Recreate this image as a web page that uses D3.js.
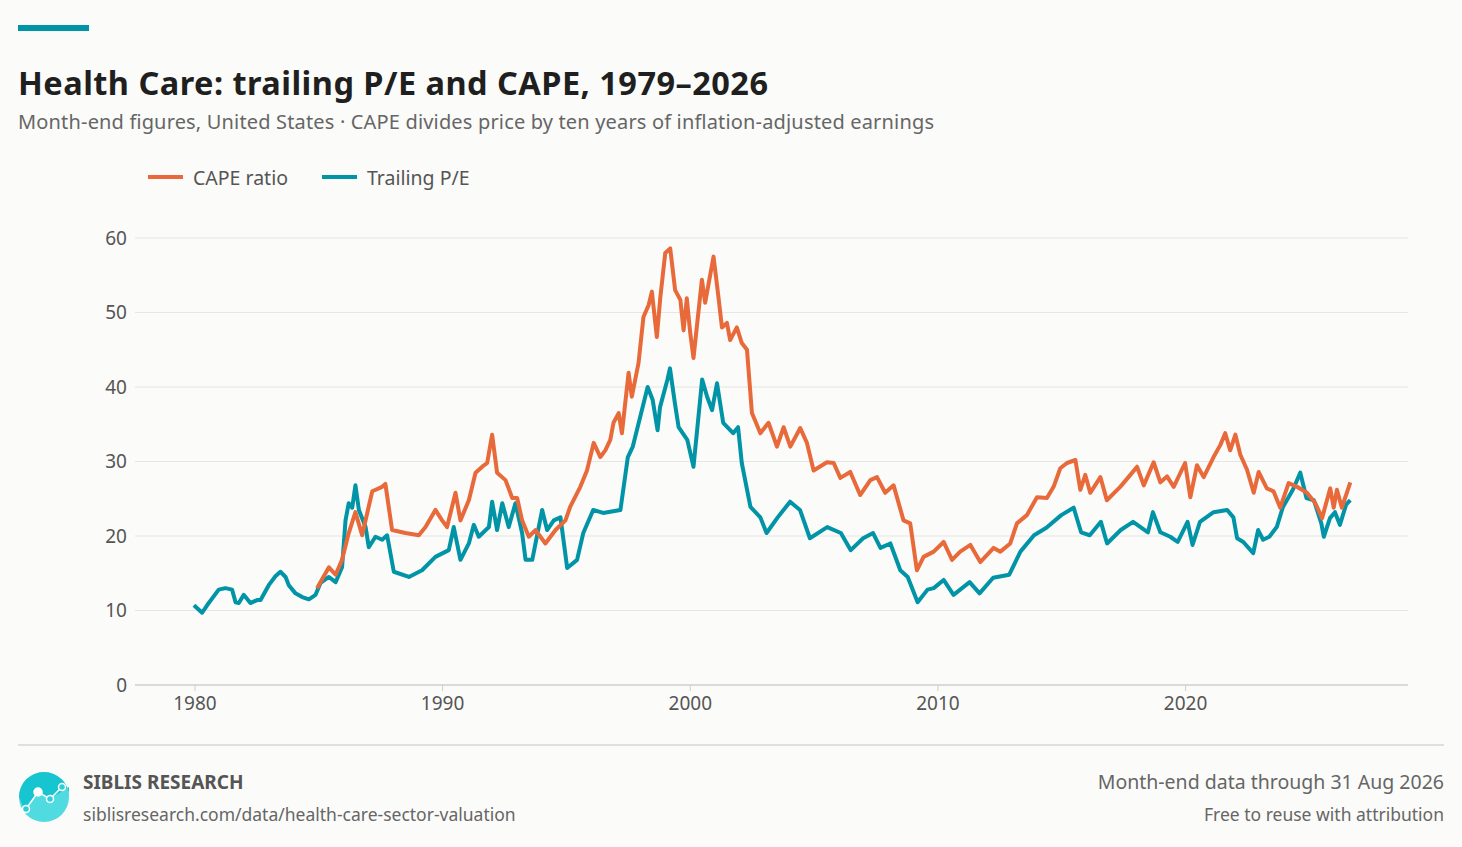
<!DOCTYPE html>
<html><head><meta charset="utf-8">
<script src="https://cdn.jsdelivr.net/npm/d3@7"></script>
<style>
body{margin:0;background:#fbfbf9;font-family:"Noto Sans",sans-serif;}
</style></head><body>
<script>
var peYears = [1979.98,1980.31,1980.51,1980.98,1981.25,1981.52,1981.66,1981.79,1981.99,1982.26,1982.53,1982.67,1983.0,1983.27,1983.47,1983.68,1983.81,1984.08,1984.35,1984.62,1984.89,1985.09,1985.43,1985.7,1985.96,1986.1,1986.23,1986.37,1986.5,1986.64,1986.91,1987.04,1987.31,1987.58,1987.78,1988.05,1988.66,1989.19,1989.73,1990.27,1990.47,1990.74,1991.08,1991.28,1991.48,1991.89,1992.02,1992.22,1992.43,1992.69,1992.96,1993.23,1993.37,1993.64,1994.04,1994.24,1994.51,1994.78,1995.05,1995.45,1995.7,1996.1,1996.5,1997.2,1997.5,1997.7,1998.0,1998.3,1998.5,1998.7,1998.8,1999.1,1999.2,1999.4,1999.55,1999.9,2000.15,2000.5,2000.7,2000.9,2001.1,2001.35,2001.75,2001.95,2002.1,2002.45,2002.85,2003.1,2003.55,2004.05,2004.45,2004.85,2005.55,2006.1,2006.5,2007.0,2007.4,2007.7,2008.1,2008.5,2008.8,2009.2,2009.6,2009.85,2010.25,2010.65,2011.3,2011.7,2012.25,2012.9,2013.35,2013.9,2014.4,2015.0,2015.5,2015.8,2016.15,2016.6,2016.85,2017.4,2017.9,2018.5,2018.7,2019.0,2019.4,2019.7,2020.1,2020.3,2020.6,2021.15,2021.7,2021.95,2022.1,2022.35,2022.75,2022.95,2023.15,2023.4,2023.7,2023.95,2024.35,2024.65,2024.9,2025.2,2025.5,2025.6,2025.85,2026.05,2026.25,2026.5,2026.67];
var peValues = [10.7,9.7,10.7,12.8,13.0,12.8,11.1,11.0,12.1,11.0,11.4,11.4,13.4,14.6,15.2,14.5,13.4,12.3,11.8,11.5,12.1,13.7,14.5,13.8,15.8,22.1,24.4,23.8,26.8,23.5,21.2,18.5,19.9,19.5,20.1,15.2,14.5,15.4,17.2,18.1,21.2,16.8,19.0,21.5,19.9,21.2,24.6,20.8,24.4,21.2,24.4,20.4,16.8,16.8,23.5,20.8,22.1,22.5,15.7,16.8,20.4,23.5,23.1,23.5,30.6,32.0,36.0,40.0,38.3,34.2,37.3,41.0,42.5,37.8,34.6,32.9,29.3,41.0,38.7,36.9,40.5,35.2,33.8,34.6,29.8,23.9,22.5,20.4,22.5,24.6,23.5,19.7,21.2,20.4,18.1,19.7,20.4,18.4,19.0,15.4,14.5,11.1,12.8,13.0,14.1,12.1,13.8,12.3,14.4,14.8,17.9,20.1,21.1,22.8,23.8,20.5,20.1,21.9,19.0,20.8,21.9,20.5,23.2,20.5,19.9,19.2,21.9,18.8,21.9,23.2,23.5,22.5,19.7,19.2,17.7,20.8,19.5,19.9,21.2,23.9,26.2,28.5,25.1,24.8,21.7,19.9,22.4,23.2,21.5,24.2,24.8];

var capeYears = [1984.95,1985.43,1985.7,1985.96,1986.23,1986.5,1986.77,1987.18,1987.58,1987.71,1987.98,1988.52,1989.06,1989.33,1989.73,1990.0,1990.2,1990.54,1990.74,1991.08,1991.35,1991.62,1991.82,1992.02,1992.22,1992.56,1992.83,1993.03,1993.23,1993.5,1993.77,1994.17,1994.58,1994.98,1995.17,1995.58,1995.85,1996.12,1996.39,1996.59,1996.79,1996.92,1997.13,1997.26,1997.53,1997.66,1997.93,1998.13,1998.34,1998.47,1998.67,1998.81,1999.01,1999.21,1999.41,1999.62,1999.75,1999.88,2000.02,2000.15,2000.49,2000.62,2000.96,2001.16,2001.3,2001.5,2001.63,2001.9,2002.1,2002.31,2002.51,2002.85,2003.18,2003.52,2003.79,2004.06,2004.46,2004.73,2005.0,2005.54,2005.81,2006.08,2006.48,2006.88,2007.29,2007.56,2007.89,2008.23,2008.63,2008.9,2009.17,2009.44,2009.85,2010.25,2010.59,2010.92,2011.33,2011.73,2012.27,2012.54,2012.94,2013.21,2013.61,2014.02,2014.42,2014.69,2014.96,2015.23,2015.57,2015.77,2015.97,2016.17,2016.58,2016.84,2017.38,2017.79,2018.06,2018.33,2018.73,2019.0,2019.27,2019.54,2020.0,2020.21,2020.48,2020.75,2021.15,2021.42,2021.62,2021.82,2022.03,2022.23,2022.5,2022.77,2022.97,2023.3,2023.57,2023.84,2024.18,2024.52,2024.92,2025.26,2025.53,2025.86,2026.0,2026.13,2026.33,2026.67];
var capeValues = [13.0,15.8,14.8,16.8,20.4,23.2,20.1,26.0,26.6,27.0,20.8,20.4,20.1,21.2,23.5,22.1,21.2,25.8,22.1,24.8,28.5,29.3,29.8,33.6,28.5,27.5,25.1,25.1,22.1,19.9,20.8,19.0,20.8,22.1,23.9,26.6,28.8,32.5,30.6,31.5,32.9,35.2,36.5,33.8,41.9,38.7,43.2,49.4,51.0,52.8,46.7,52.0,58.0,58.6,53.0,51.7,47.6,51.9,47.2,43.9,54.4,51.3,57.5,52.0,48.0,48.6,46.3,48.0,45.9,45.0,36.5,33.8,35.2,32.0,34.6,32.0,34.5,32.5,28.8,29.9,29.8,27.8,28.6,25.5,27.5,27.9,25.8,26.8,22.1,21.7,15.4,17.2,17.9,19.2,16.8,17.9,18.8,16.5,18.4,17.9,19.0,21.7,22.8,25.2,25.1,26.6,29.1,29.8,30.2,26.2,28.2,25.8,27.9,24.8,26.6,28.2,29.3,26.8,29.9,27.2,28.0,26.6,29.8,25.2,29.5,27.9,30.6,32.2,33.8,31.5,33.6,30.9,28.9,25.8,28.6,26.4,26.0,23.8,27.1,26.6,25.8,24.4,22.4,26.4,23.8,26.2,23.8,27.2];

var yTicks = [0, 10, 20, 30, 40, 50, 60];
var xTicks = [1980, 1990, 2000, 2010, 2020];

var orange = "#e8693a", teal = "#0094a6";

var svg = d3.select("body").append("svg").attr("width", 1462).attr("height", 847);
svg.append("rect").attr("width", 1462).attr("height", 847).attr("fill", "#fbfbf9");

var x = d3.scaleLinear().domain([1977.6, 2029]).range([135, 1408]);
var y = d3.scaleLinear().domain([0, 60]).range([685, 238]);

// header
svg.append("rect").attr("x", 18).attr("y", 25).attr("width", 71).attr("height", 6).attr("fill", teal);
svg.append("text").attr("x", 18).attr("y", 95).attr("font-size", 32.5).attr("font-weight", 700)
    .attr("fill", "#1f1f1f").attr("textLength", 750).text("Health Care: trailing P/E and CAPE, 1979–2026");
svg.append("text").attr("x", 18).attr("y", 129).attr("font-size", 20).attr("fill", "#666").attr("textLength", 916)
    .text("Month-end figures, United States · CAPE divides price by ten years of inflation-adjusted earnings");

// legend
var legend = [["CAPE ratio", orange, 148], ["Trailing P/E", teal, 322]];
legend.forEach(function (l) {
    svg.append("line").attr("x1", l[2]).attr("x2", l[2] + 35).attr("y1", 177).attr("y2", 177)
        .attr("stroke", l[1]).attr("stroke-width", 4);
    svg.append("text").attr("x", l[2] + 45).attr("y", 185).attr("font-size", 19.5).attr("fill", "#555").text(l[0]);
});

// grid
svg.append("g").selectAll("line").data(yTicks).join("line")
    .attr("x1", 135).attr("x2", 1408).attr("y1", d => y(d)).attr("y2", d => y(d))
    .attr("stroke", d => d === 0 ? "#cfcfcf" : "#e6e6e4").attr("stroke-width", d => d === 0 ? 1.5 : 1.2);

var yAxis = svg.append("g").attr("transform", "translate(135,0)")
    .call(d3.axisLeft(y).tickValues(yTicks).tickSize(0).tickPadding(8));
var xAxis = svg.append("g").attr("transform", "translate(0,685)")
    .call(d3.axisBottom(x).tickValues(xTicks).tickFormat(d3.format("d")).tickSize(6).tickPadding(6));
[yAxis, xAxis].forEach(function (a) {
    a.select(".domain").remove();
    a.selectAll("text").attr("font-size", 19).attr("fill", "#555").attr("font-family", "Noto Sans");
    a.selectAll("line").attr("stroke", "#cfcfcf");
});

var line = d3.line().x(d => x(d[0])).y(d => y(d[1]));
svg.append("path").attr("d", line(d3.zip(peYears, peValues)))
    .attr("fill", "none").attr("stroke", teal).attr("stroke-width", 4).attr("stroke-linejoin", "round");
svg.append("path").attr("d", line(d3.zip(capeYears, capeValues)))
    .attr("fill", "none").attr("stroke", orange).attr("stroke-width", 4).attr("stroke-linejoin", "round");

// footer
svg.append("line").attr("x1", 18).attr("x2", 1444).attr("y1", 745).attr("y2", 745).attr("stroke", "#d6d6d6").attr("stroke-width", 1.5);
var logo = svg.append("g").attr("transform", "translate(44,797)");
logo.append("circle").attr("r", 25).attr("fill", "#4fdbe0");
logo.append("path").attr("d", "M-25,0 A25,25 0 0 1 25,0 L25,-10 L6,2 L-6,-5 L-20,12 Z").attr("fill", "#17c5d0");
logo.append("polyline").attr("points", "-18,12 -6,-5 6,2 18,-10").attr("fill", "none").attr("stroke", "#fff").attr("stroke-width", 1.5);
[[-18, 12], [-6, -5], [6, 2], [18, -10]].forEach(function (p, i) {
    logo.append("circle").attr("cx", p[0]).attr("cy", p[1]).attr("r", i === 1 ? 4 : 3.5)
        .attr("fill", i === 1 ? "#fff" : "#2ccfd8").attr("stroke", "#fff").attr("stroke-width", 1.5);
});
svg.append("text").attr("x", 83).attr("y", 789).attr("font-size", 19).attr("font-weight", 700).attr("fill", "#555").text("SIBLIS RESEARCH");
svg.append("text").attr("x", 83).attr("y", 821).attr("font-size", 17.5).attr("fill", "#666").text("siblisresearch.com/data/health-care-sector-valuation");
svg.append("text").attr("x", 1444).attr("y", 789).attr("text-anchor", "end").attr("font-size", 19.5).attr("fill", "#666").text("Month-end data through 31 Aug 2026");
svg.append("text").attr("x", 1444).attr("y", 821).attr("text-anchor", "end").attr("font-size", 17.5).attr("fill", "#666").text("Free to reuse with attribution");
</script>
</body></html>
